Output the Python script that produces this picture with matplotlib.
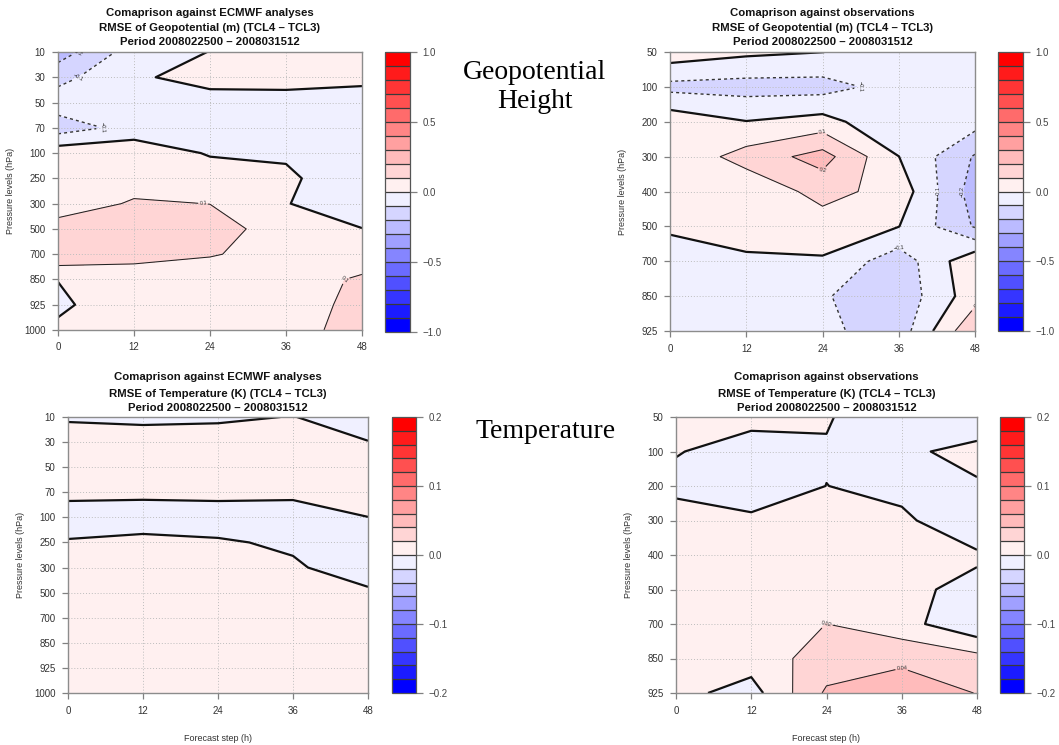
import numpy as np
import matplotlib
matplotlib.use("Agg")
import matplotlib.pyplot as plt
from matplotlib.ticker import FuncFormatter

plt.rcParams['font.family'] = ['Liberation Sans', 'DejaVu Sans']
plt.rcParams['axes.unicode_minus'] = True

# ---------------- data ----------------
steps = [0, 12, 24, 36, 48]
levels_ecmwf = ['10', '30', '50', '70', '100', '250', '300', '500', '700', '850', '925', '1000']
levels_obs = ['50', '100', '200', '300', '400', '500', '700', '850', '925']

# RMSE difference of geopotential (m), vs ECMWF analyses (rows = levels, cols = steps)
z_ecmwf = [
    [-0.25, -0.05, 0.002, 0.02, 0.02],
    [-0.13, -0.02, 0.05, 0.04, 0.03],
    [-0.05, -0.05, -0.056, -0.04, -0.056],
    [-0.15, -0.065, -0.05, -0.05, -0.05],
    [0.06, 0.073, -0.01, -0.015, -0.03],
    [0.05, 0.06, 0.061, 0.02, -0.076],
    [0.05, 0.11, 0.099, 0.002, -0.03],
    [0.14, 0.15, 0.14, 0.056, 0.001],
    [0.18, 0.15, 0.11, 0.05, 0.03],
    [0.0022, 0.02, 0.02, 0.04, 0.1175],
    [-0.02, 0.069, 0.04, 0.05, 0.13],
    [0.02, 0.05, 0.04, 0.05, 0.15],
]
# geopotential vs observations
z_obs = [
    [0.06, 0.02, 0.001, -0.04, -0.04],
    [-0.13, -0.14, -0.14, -0.06, -0.05],
    [0.067, 0.003, 0.0395, -0.09, -0.06],
    [0.023, 0.14, 0.24, 0.001, -0.21],
    [0.03, 0.026, 0.135, 0.06, -0.25],
    [0.01, 0.03, 0.052, 0.002, -0.21],
    [-0.032, -0.011, -0.01, -0.16, 0.08],
    [-0.03, -0.03, -0.09, -0.17, 0.06],
    [-0.03, -0.03, -0.076, -0.155, 0.19],
]
# temperature (K) vs ECMWF analyses
t_ecmwf = [
    [-0.004, -0.006, -0.005, 0.001, -0.018],
    [0.016, 0.0128, 0.015, 0.012, 0.001],
    [0.012, 0.012, 0.012, 0.01, 0.01],
    [0.008, 0.008, 0.008, 0.008, 0.01],
    [-0.015, -0.0187, -0.0149, -0.0178, -0.0002],
    [0.0024, 0.0096, 0.0033, -0.0046, -0.01],
    [0.01, 0.012, 0.01, 0.004, -0.016],
    [0.01, 0.01, 0.01, 0.01, 0.0048],
    [0.01, 0.01, 0.01, 0.01, 0.01],
    [0.01, 0.01, 0.01, 0.01, 0.01],
    [0.01, 0.01, 0.01, 0.01, 0.01],
    [0.01, 0.01, 0.01, 0.01, 0.01],
]
# temperature vs observations
t_obs = [
    [0.01, 0.01, 0.002, -0.018, -0.018],
    [0.002, -0.015, -0.0021, -0.005, 0.008],
    [-0.0098, -0.015, 0.0002, -0.0056, -0.0028],
    [0.0174, 0.0047, 0.01, 0.00375, -0.015],
    [0.01, 0.01, 0.01, 0.005, 0.00265],
    [0.01, 0.01, 0.01, 0.0041, -0.0049],
    [0.01, 0.01, 0.0201, 0.0074, -0.0165],
    [0.01, 0.0095, 0.0285, 0.036, 0.027],
    [0.006, -0.0081, 0.043, 0.0503, 0.0395],
]

titles_z_ecmwf = ["Comaprison against ECMWF analyses",
                  "RMSE of Geopotential (m) (TCL4 \u2013 TCL3)",
                  "Period 2008022500 \u2013 2008031512"]
titles_z_obs = ["Comaprison against observations",
                "RMSE of Geopotential (m) (TCL4 \u2013 TCL3)",
                "Period 2008022500 \u2013 2008031512"]
titles_t_ecmwf = ["Comaprison against ECMWF analyses",
                  "RMSE of Temperature (K) (TCL4 \u2013 TCL3)",
                  "Period 2008022500 \u2013 2008031512"]
titles_t_obs = ["Comaprison against observations",
                "RMSE of Temperature (K) (TCL4 \u2013 TCL3)",
                "Period 2008022500 \u2013 2008031512"]

# ---------------- figure ----------------
W, H = 1059, 745
fig = plt.figure(figsize=(W / 100, H / 100), dpi=100)


def rect(x0, y0, x1, y1):
    return [x0 / W, 1 - y1 / H, (x1 - x0) / W, (y1 - y0) / H]


def band_colors():
    blues = [(g / 255, g / 255, 1.0) for g in np.linspace(0, 240, 10)]
    reds = [(1.0, g / 255, g / 255) for g in np.linspace(240, 0, 10)]
    return blues + reds


def cb_fmt(v, pos):
    s = "%.1f" % abs(v)
    return ("\u2212" + s) if v < -1e-9 else s


def lab_fmt(v):
    s = ("%.2f" % v).rstrip('0').rstrip('.')
    return s.replace('-', '\u2212')


def panel(ax_px, cb_px, data, ylabels, vmax, cbticks, titles, title_ys, xlabel):
    ax = fig.add_axes(rect(*ax_px))
    X = np.array(steps, dtype=float)
    Y = np.arange(len(ylabels), dtype=float)
    Z = np.array(data, dtype=float)
    lev = np.linspace(-vmax, vmax, 21)
    cf = ax.contourf(X, Y, Z, levels=lev, colors=band_colors())
    d = lev[1] - lev[0]
    zmin, zmax = Z.min(), Z.max()
    pos = [l for l in lev if l > d / 2 and zmin < l < zmax]
    neg = [l for l in lev if l < -d / 2 and zmin < l < zmax]
    ax.contour(X, Y, Z, levels=[0.0], colors='#111111', linewidths=1.6)
    if pos:
        cp = ax.contour(X, Y, Z, levels=pos, colors='#222222', linewidths=0.75)
        ax.clabel(cp, fmt=lab_fmt, fontsize=4, inline=True, inline_spacing=1,
                  colors='#333333')
    if neg:
        cn = ax.contour(X, Y, Z, levels=neg, colors='#333333', linewidths=1.0,
                        linestyles=[(0, (2.2, 2.2))])
        ax.clabel(cn, fmt=lab_fmt, fontsize=4, inline=True, inline_spacing=1,
                  colors='#333333')
    ax.set_xlim(0, 48)
    ax.set_ylim(len(ylabels) - 1, 0)
    ax.set_xticks(steps)
    ax.set_yticks(Y)
    ax.set_yticklabels(ylabels)
    ax.tick_params(labelsize=7, labelcolor='#333333', color='#808080',
                   length=4, width=0.9, direction='out', pad=5)
    for s in ax.spines.values():
        s.set_color('#8c8c8c')
        s.set_linewidth(1.0)
    ax.grid(True, linestyle=(0, (1, 2)), color='#bdbdbd', linewidth=0.7)
    axw = ax_px[2] - ax_px[0]
    axh = ax_px[3] - ax_px[1]
    ax.set_ylabel("Pressure levels (hPa)", fontsize=6.5, color='#333333')
    ax.yaxis.set_label_coords(-43 / axw, 0.5)
    if xlabel:
        ax.set_xlabel("Forecast step (h)", fontsize=6.5, color='#333333')
        ax.xaxis.set_label_coords(0.5, -41 / axh)
    cx = (ax_px[0] + ax_px[2]) / 2
    for t, y in zip(titles, title_ys):
        fig.text(cx / W, 1 - y / H, t, ha='center', va='center',
                 fontsize=8.2, fontweight='bold', color='#111111')
    cax = fig.add_axes(rect(*cb_px))
    cb = fig.colorbar(cf, cax=cax, ticks=cbticks, drawedges=True)
    cb.dividers.set_color('#3a3a3a')
    cb.dividers.set_linewidth(0.9)
    cb.outline.set_edgecolor('#555555')
    cb.outline.set_linewidth(0.9)
    cax.yaxis.set_major_formatter(FuncFormatter(cb_fmt))
    cax.tick_params(labelsize=7, labelcolor='#444444', color='#808080',
                    length=5, width=0.9, pad=4)
    return ax


panel((58, 52, 362, 330), (385, 52, 410, 332), z_ecmwf, levels_ecmwf, 1.0,
      [-1.0, -0.5, 0.0, 0.5, 1.0], titles_z_ecmwf, (12.7, 28, 42), False)
panel((670, 52, 975, 331), (998, 52, 1023, 331), z_obs, levels_obs, 1.0,
      [-1.0, -0.5, 0.0, 0.5, 1.0], titles_z_obs, (12.7, 28, 42), False)
panel((68, 417, 368, 693), (392, 417, 416, 693), t_ecmwf, levels_ecmwf, 0.2,
      [-0.2, -0.1, 0.0, 0.1, 0.2], titles_t_ecmwf, (377, 393.5, 408), True)
panel((676, 417, 977, 693), (1000, 417, 1024, 693), t_obs, levels_obs, 0.2,
      [-0.2, -0.1, 0.0, 0.1, 0.2], titles_t_obs, (377, 393.5, 408), True)

fig.text(535 / W, 1 - 87 / H, "Geopotential\nHeight", ha='center', va='center',
         fontsize=20, family=['Liberation Serif', 'DejaVu Serif'], linespacing=1.25)
fig.text(546 / W, 1 - 432 / H, "Temperature", ha='center', va='center',
         fontsize=20, family=['Liberation Serif', 'DejaVu Serif'])

fig.savefig("out.png", dpi=100)
